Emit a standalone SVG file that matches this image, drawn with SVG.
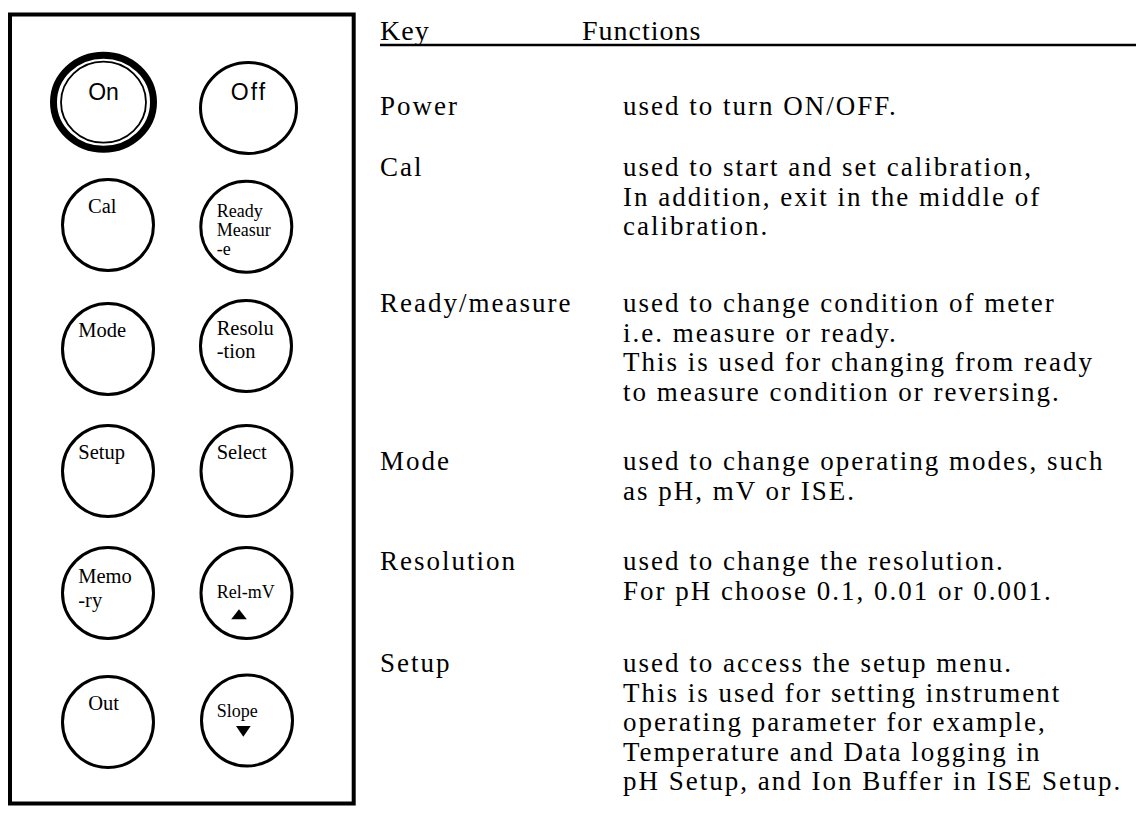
<svg xmlns="http://www.w3.org/2000/svg" width="1136" height="822" viewBox="0 0 1136 822">
  <style>
    .panel { fill: none; stroke: #000; stroke-width: 4; }
    .btn { fill: #fff; stroke: #000; stroke-width: 3; }
    .sans { font-family: "Liberation Sans", Arial, sans-serif; font-size: 23px; fill: #000; }
    .lbl { font-family: "Liberation Serif", "Times New Roman", serif; font-size: 20.5px; fill: #000; }
    .lbl-s { font-family: "Liberation Serif", "Times New Roman", serif; font-size: 18px; fill: #000; }
    .hdr { font-family: "Liberation Serif", "Times New Roman", serif; font-size: 28px; letter-spacing: 1px; fill: #000; }
    .body { font-family: "Liberation Serif", "Times New Roman", serif; font-size: 27px; letter-spacing: 2px; fill: #000; }
  </style>

  <!-- keypad panel -->
  <rect class="panel" x="10" y="14.5" width="343.7" height="789"/>

  <g id="key-on">
    <ellipse cx="103.5" cy="102.2" rx="50" ry="47" fill="#fff" stroke="#000" stroke-width="7"/>
    <ellipse cx="103.5" cy="102.2" rx="42.5" ry="40.5" fill="none" stroke="#000" stroke-width="1.8"/>
    <text class="sans" x="103.5" y="100" text-anchor="middle">On</text>
  </g>
  <g id="key-off">
    <ellipse class="btn" cx="248.5" cy="108" rx="48" ry="45.5"/>
    <text class="sans" x="249" y="100" text-anchor="middle" letter-spacing="2">Off</text>
  </g>

  <g id="key-cal">
    <circle class="btn" cx="108" cy="225" r="45.5"/>
    <text class="lbl" x="88" y="213.3">Cal</text>
  </g>
  <g id="key-ready">
    <circle class="btn" cx="246.3" cy="226.7" r="45.5"/>
    <text class="lbl-s" x="216.7" y="216.5">Ready</text>
    <text class="lbl-s" x="216.7" y="235.5">Measur</text>
    <text class="lbl-s" x="216.7" y="254.5">-e</text>
  </g>

  <g id="key-mode">
    <circle class="btn" cx="108" cy="349" r="45.5"/>
    <text class="lbl" x="78.3" y="336.7">Mode</text>
  </g>
  <g id="key-resolution">
    <circle class="btn" cx="246" cy="346" r="45.5"/>
    <text class="lbl" x="216.7" y="335">Resolu</text>
    <text class="lbl" x="216.7" y="358.3">-tion</text>
  </g>

  <g id="key-setup">
    <circle class="btn" cx="108" cy="471" r="45.5"/>
    <text class="lbl" x="78.3" y="459.3">Setup</text>
  </g>
  <g id="key-select">
    <circle class="btn" cx="246.5" cy="471" r="45.5"/>
    <text class="lbl" x="216.7" y="459.3">Select</text>
  </g>

  <g id="key-memory">
    <circle class="btn" cx="108" cy="593" r="45.5"/>
    <text class="lbl" x="78.3" y="583.3">Memo</text>
    <text class="lbl" x="78.3" y="606.7">-ry</text>
  </g>
  <g id="key-relmv">
    <circle class="btn" cx="246.5" cy="593" r="45.5"/>
    <text class="lbl-s" x="216.7" y="598.3">Rel-mV</text>
    <polygon points="239,609.3 246.8,619.3 231.2,619.3" fill="#000"/>
  </g>

  <g id="key-out">
    <circle class="btn" cx="108" cy="722" r="45.5"/>
    <text class="lbl" x="88.3" y="710">Out</text>
  </g>
  <g id="key-slope">
    <circle class="btn" cx="247" cy="720.5" r="45.5"/>
    <text class="lbl-s" x="216.7" y="717.3">Slope</text>
    <polygon points="236,726 250.7,726 243.3,736.7" fill="#000"/>
  </g>

  <!-- function table -->
  <g id="table-header">
    <text class="hdr" x="380" y="40">Key</text>
    <text class="hdr" x="582" y="40">Functions</text>
    <line x1="380" y1="45" x2="1136" y2="45" stroke="#000" stroke-width="2.5"/>
  </g>

  <g id="row-power">
    <text class="body" x="380" y="115">Power</text>
    <text class="body" x="623" y="115">used to turn ON/OFF.</text>
  </g>

  <g id="row-cal">
    <text class="body" x="380" y="176">Cal</text>
    <text class="body">
      <tspan x="623" y="176">used to start and set calibration,</tspan>
      <tspan x="623" y="205.5">In addition, exit in the middle of</tspan>
      <tspan x="623" y="235">calibration.</tspan>
    </text>
  </g>

  <g id="row-ready">
    <text class="body" x="380" y="312">Ready/measure</text>
    <text class="body">
      <tspan x="623" y="312">used to change condition of meter</tspan>
      <tspan x="623" y="341.5">i.e. measure or ready.</tspan>
      <tspan x="623" y="371">This is used for changing from ready</tspan>
      <tspan x="623" y="400.5">to measure condition or reversing.</tspan>
    </text>
  </g>

  <g id="row-mode">
    <text class="body" x="380" y="470">Mode</text>
    <text class="body">
      <tspan x="623" y="470">used to change operating modes, such</tspan>
      <tspan x="623" y="499.5">as pH, mV or ISE.</tspan>
    </text>
  </g>

  <g id="row-resolution">
    <text class="body" x="380" y="570">Resolution</text>
    <text class="body">
      <tspan x="623" y="570">used to change the resolution.</tspan>
      <tspan x="623" y="599.5">For pH choose 0.1, 0.01 or 0.001.</tspan>
    </text>
  </g>

  <g id="row-setup">
    <text class="body" x="380" y="672">Setup</text>
    <text class="body">
      <tspan x="623" y="672">used to access the setup menu.</tspan>
      <tspan x="623" y="701.5">This is used for setting instrument</tspan>
      <tspan x="623" y="731">operating parameter for example,</tspan>
      <tspan x="623" y="760.5">Temperature and Data logging in</tspan>
      <tspan x="623" y="790">pH Setup, and Ion Buffer in ISE Setup.</tspan>
    </text>
  </g>
</svg>
